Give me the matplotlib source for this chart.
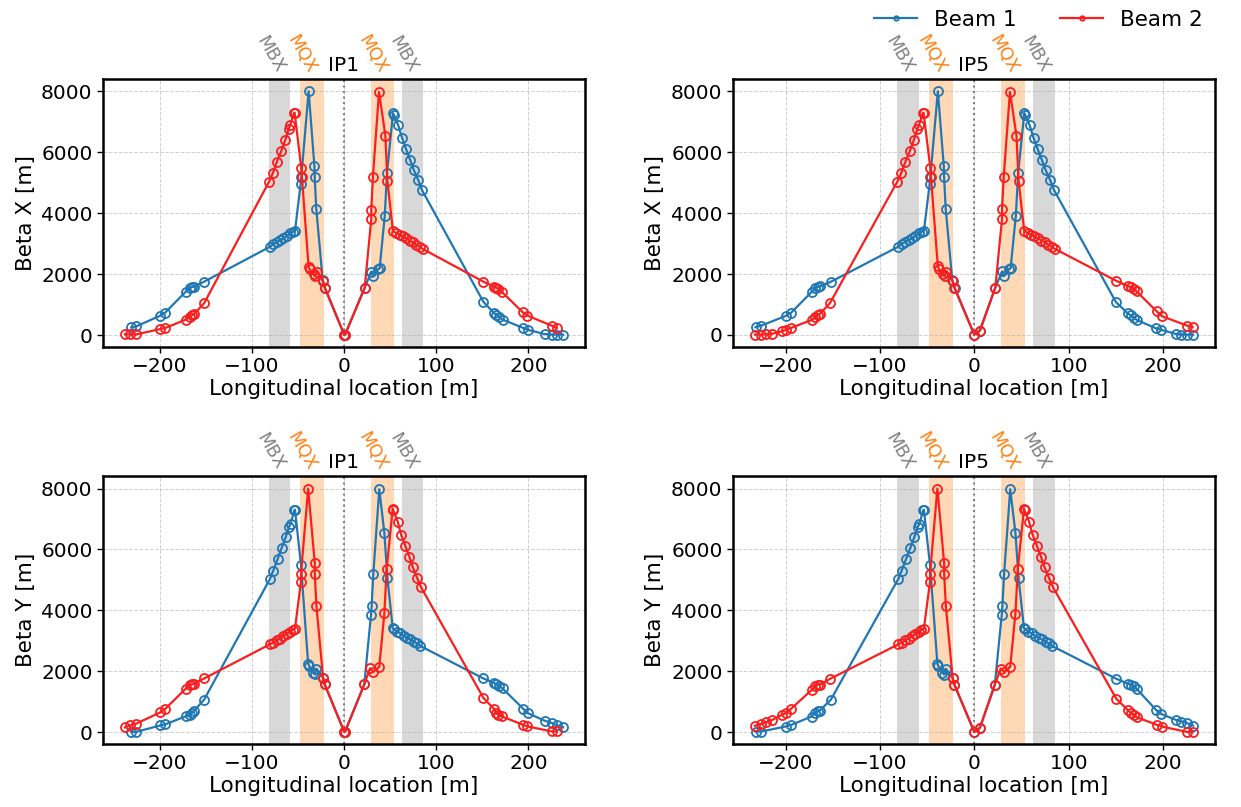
import numpy as np
import matplotlib.pyplot as plt

# ---- inner region around the IP (MBX / MQX); same at IP1 and IP5 ----
S_B1X_IN = [-80.6, -77.0, -73.3, -69.7, -66.1, -62.4, -58.9, -55.9, -53.4, -47.3, -46.5, -38.6, -32.3, -32.0, -30.3, -23.3, -20.8,
            22.3, 29.4, 31.2, 36.7, 38.5, 44.0, 46.5, 53.0, 53.8, 58.6, 62.8, 67.2, 71.8, 75.5, 80.3, 84.6]
BETX_B1_IN = [2896, 2985, 3051, 3117, 3173, 3250, 3339, 3382, 3415, 4950, 5200, 8000, 5541, 5190, 4142, 1795, 1554,
              1554, 2083, 1937, 2159, 2192, 3901, 5322, 7283, 7230, 6890, 6470, 6100, 5730, 5420, 5090, 4750]

S_B2X_IN = [-81.7, -77.3, -73.0, -68.3, -64.0, -60.3, -58.5, -54.5, -53.8, -46.6, -45.9, -38.6, -37.5, -33.2, -31.4, -29.6, -23.0, -21.2,
            22.3, 29.4, 29.4, 31.2, 37.8, 44.7, 46.9, 53.0, 56.6, 60.2, 63.8, 67.4, 71.1, 74.7, 78.3, 81.9, 85.5]
BETX_B2_IN = [5024, 5322, 5686, 6037, 6400, 6754, 6897, 7283, 7300, 5487, 5190, 2248, 2159, 1993, 1937, 2070, 1773, 1554,
              1554, 3812, 4120, 5190, 7977, 6545, 5058, 3405, 3350, 3295, 3240, 3174, 3097, 3042, 2965, 2900, 2823]

S_B1Y_IN = [-80.6, -77.0, -72.2, -67.9, -63.5, -59.9, -58.1, -54.2, -53.4, -46.9, -39.1, -38.0, -33.7, -31.9, -30.1, -22.9, -21.1,
            21.8, 29.1, 29.8, 31.6, 38.1, 43.6, 46.9, 52.7, 53.8, 57.4, 61.0, 64.6, 68.3, 71.9, 75.5, 79.1, 82.7]
BETY_B1_IN = [5028, 5302, 5688, 6041, 6404, 6734, 6844, 7283, 7306, 5490, 2245, 2168, 1948, 1893, 2080, 1783, 1563,
              1562, 3850, 4147, 5193, 7977, 6547, 5061, 3410, 3377, 3300, 3245, 3157, 3102, 3047, 2970, 2915, 2827]

S_B2Y_IN = [-80.6, -77.0, -73.3, -69.7, -66.1, -62.4, -58.9, -56.0, -53.4, -46.9, -46.9, -39.1, -31.9, -31.9, -30.1, -22.9, -21.1,
            21.8, 28.0, 31.6, 38.1, 43.6, 46.1, 52.7, 53.3, 58.2, 61.8, 66.5, 70.9, 74.5, 79.2, 83.5]
BETY_B2_IN = [2882, 2937, 3014, 3070, 3157, 3235, 3301, 3355, 3400, 4939, 5193, 8000, 5546, 5193, 4127, 1783, 1563,
              1562, 2090, 1981, 2146, 3896, 5358, 7339, 7280, 6900, 6481, 6107, 5744, 5414, 5061, 4754]

# ---- points at the IP itself ----
S_IP1 = [0.0, 1.0]
BET_IP1 = [15, 15]
S_IP5 = [0.0, 6.0]
BET_IP5 = [10, 145]

# ---- outer points (s < -150 and s > 150) ----
S_B1_OUT_IP1 = [-231.2, -225.8, -199.5, -194.3, -172.1, -167.8, -165.2, -163.4, -152.0,
                151.1, 162.5, 165.2, 168.0, 172.0, 194.5, 199.0, 217.5, 225.3, 230.7, 237.6]
BETX_B1_OUT_IP1 = [251, 285, 638, 737, 1421, 1531, 1574, 1585, 1752,
                   1091, 727, 672, 595, 507, 231, 176, 33, 15, 15, 15]
BETY_B1_OUT_IP1 = [5, 5, 218, 251, 515, 570, 627, 682, 1066,
                   1760, 1618, 1563, 1508, 1431, 759, 627, 373, 297, 220, 154]

S_B2_OUT_IP1 = [-238.0, -232.0, -226.0, -199.5, -194.3, -172.1, -167.8, -165.2, -163.4, -152.0,
                151.1, 162.7, 164.9, 167.4, 171.0, 193.8, 198.9, 225.3, 230.7]
BETX_B2_OUT_IP1 = [25, 20, 20, 198, 231, 506, 595, 650, 681, 1045,
                   1752, 1587, 1554, 1521, 1421, 749, 639, 308, 231]
BETY_B2_OUT_IP1 = [152, 218, 273, 647, 759, 1420, 1530, 1563, 1585, 1760,
                   1122, 759, 627, 572, 517, 241, 185, 20, 20]

S_B1_OUT_IP5 = [-231.8, -226.2, -200.0, -194.0, -172.3, -168.3, -165.6, -164.0, -152.0,
                150.1, 162.4, 166.0, 169.5, 171.9, 192.4, 198.3, 213.5, 219.4, 225.8, 231.8]
BETX_B1_OUT_IP5 = [251, 300, 620, 730, 1415, 1535, 1580, 1590, 1745,
                   1078, 714, 638, 562, 496, 218, 165, 33, 10, 10, 10]
BETY_B1_OUT_IP5 = [20, 20, 185, 241, 515, 627, 680, 703, 1066,
                   1760, 1597, 1563, 1506, 1430, 736, 594, 406, 350, 297, 218]

S_B2_OUT_IP5 = [-232.5, -225.5, -220.3, -213.9, -203.7, -199.5, -194.2, -171.9, -168.4, -166.0, -163.5, -152.9,
                150.7, 162.4, 166.0, 168.8, 171.9, 193.5, 198.8, 225.3, 231.3]
BETX_B2_OUT_IP5 = [10, 10, 20, 40, 119, 165, 231, 496, 582, 638, 694, 1045,
                   1772, 1607, 1574, 1521, 1431, 770, 615, 307, 251]
BETY_B2_OUT_IP5 = [208, 274, 330, 406, 571, 627, 769, 1396, 1506, 1562, 1562, 1750,
                   1089, 736, 627, 571, 495, 241, 185, 10, 10]

# magnet extents [m]
MBX_BANDS = [(-81.7, -59.1), (62.4, 85.5)]
MQX_BANDS = [(-47.8, -22.3), (28.8, 53.8)]

BLUE = "#1f77b4"
RED = "#fa1e1e"


def join(s_out, b_out, s_in, b_in, s_ip, b_ip):
    """Merge outer, inner and IP points into one curve ordered by s."""
    s = np.concatenate([s_out, s_in, s_ip]).astype(float)
    b = np.concatenate([b_out, b_in, b_ip]).astype(float)
    order = np.argsort(s, kind="stable")
    return s[order], b[order]


def draw_panel(ax, ip_name, ylabel, beam1, beam2):
    for lo, hi in MBX_BANDS:
        ax.axvspan(lo, hi, color="gray", alpha=0.3, lw=0, zorder=0)
        ax.text(lo + 2, 1.012, "MBX", transform=ax.get_xaxis_transform(), rotation=-60,
                ha="center", va="bottom", color="gray", fontsize=12.5)
    for lo, hi in MQX_BANDS:
        ax.axvspan(lo, hi, color="C1", alpha=0.3, lw=0, zorder=0)
        ax.text(lo + 2, 1.012, "MQX", transform=ax.get_xaxis_transform(), rotation=-60,
                ha="center", va="bottom", color="C1", fontsize=12.5)
    ax.axvline(0, color="gray", ls=":", lw=1.5, zorder=1)

    ax.plot(*beam1, "-o", color=BLUE, mfc="none", ms=6.5, lw=1.6, mew=1.3, label="Beam 1", zorder=3)
    ax.plot(*beam2, "-o", color=RED, mfc="none", ms=6.5, lw=1.6, mew=1.3, label="Beam 2", zorder=3)

    ax.set_title(ip_name, fontsize=14.5, pad=6)
    ax.set_xlabel("Longitudinal location [m]", fontsize=15.5, labelpad=2)
    ax.set_ylabel(ylabel, fontsize=15.5)
    ax.set_yticks([0, 2000, 4000, 6000, 8000])
    ax.set_xticks([-200, -100, 0, 100, 200])
    ax.tick_params(labelsize=14.5, length=4, width=1)
    ax.grid(True, ls="--", lw=0.7, color="#b0b0b0", alpha=0.6)
    ax.set_axisbelow(True)
    for sp in ax.spines.values():
        sp.set_linewidth(1.8)


fig = plt.figure(figsize=(12.41, 8.07), dpi=100)
axes = fig.subplots(2, 2)
fig.subplots_adjust(left=0.083, right=0.979, top=0.902, bottom=0.078, wspace=0.307, hspace=0.484)

draw_panel(axes[0, 0], "IP1", "Beta X [m]",
           join(S_B1_OUT_IP1, BETX_B1_OUT_IP1, S_B1X_IN, BETX_B1_IN, S_IP1, BET_IP1),
           join(S_B2_OUT_IP1, BETX_B2_OUT_IP1, S_B2X_IN, BETX_B2_IN, S_IP1, BET_IP1))
draw_panel(axes[0, 1], "IP5", "Beta X [m]",
           join(S_B1_OUT_IP5, BETX_B1_OUT_IP5, S_B1X_IN, BETX_B1_IN, S_IP5, BET_IP5),
           join(S_B2_OUT_IP5, BETX_B2_OUT_IP5, S_B2X_IN, BETX_B2_IN, S_IP5, BET_IP5))
draw_panel(axes[1, 0], "IP1", "Beta Y [m]",
           join(S_B1_OUT_IP1, BETY_B1_OUT_IP1, S_B1Y_IN, BETY_B1_IN, S_IP1, BET_IP1),
           join(S_B2_OUT_IP1, BETY_B2_OUT_IP1, S_B2Y_IN, BETY_B2_IN, S_IP1, BET_IP1))
draw_panel(axes[1, 1], "IP5", "Beta Y [m]",
           join(S_B1_OUT_IP5, BETY_B1_OUT_IP5, S_B1Y_IN, BETY_B1_IN, S_IP5, BET_IP5),
           join(S_B2_OUT_IP5, BETY_B2_OUT_IP5, S_B2Y_IN, BETY_B2_IN, S_IP5, BET_IP5))

handles, labels = axes[0, 0].get_legend_handles_labels()
fig.legend(handles, labels, loc="upper right", bbox_to_anchor=(0.985, 1.012), ncol=2,
           frameon=False, fontsize=15.5, markerscale=0.5, columnspacing=2.0)

plt.savefig("out.png", dpi=100)
plt.close()
